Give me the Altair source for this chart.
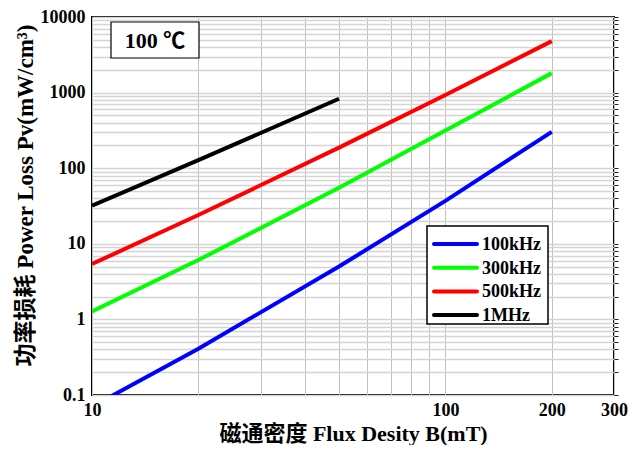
import altair as alt
import pandas as pd

# ---- data ----
series_names = ["100kHz", "300kHz", "500kHz", "1MHz"]
series_colors = ["#0000FF", "#00FF00", "#FF0000", "#000000"]

b_100k = [10, 20, 50, 100, 200]
p_100k = [0.07, 0.41, 5.0, 37, 303]

b_300k = [10, 20, 50, 100, 200]
p_300k = [1.27, 6.1, 55, 315, 1810]

b_500k = [10, 20, 50, 100, 200]
p_500k = [5.4, 24, 187, 930, 4800]

b_1m = [10, 20, 50]
p_1m = [32, 128, 830]

x_tick_values = [10, 20, 30, 40, 50, 60, 70, 80, 90, 100, 200, 300]
y_decades = [0.1, 1, 10, 100, 1000, 10000]

rows = []
for name, bs, ps in zip(series_names, [b_100k, b_300k, b_500k, b_1m],
                        [p_100k, p_300k, p_500k, p_1m]):
    for b, p in zip(bs, ps):
        rows.append({"series": name, "B": b, "P": p})
df = pd.DataFrame(rows)

y_tick_values = []
for d in y_decades[:-1]:
    for k in range(1, 10):
        y_tick_values.append(round(d * k, 6))
y_tick_values.append(10000)

FONT = "Liberation Serif, Times New Roman, Noto Sans CJK SC"

x_scale = alt.Scale(type="log", domain=[10, 300], nice=False)
y_scale = alt.Scale(type="log", domain=[0.1, 10000], nice=False)

x_axis = alt.Axis(
    values=x_tick_values,
    labelExpr="indexof([10,100,200,300], datum.value) >= 0 ? format(datum.value, 'd') : ''",
    title="磁通密度 Flux Desity B(mT)",
    titleFont=FONT, titleFontSize=22, titleFontWeight="bold", titleColor="black",
    titlePadding=4,
    labelFont=FONT, labelFontSize=18, labelFontWeight="bold", labelColor="black",
    labelPadding=6, labelFlush=False, labelOverlap=False,
    ticks=False, domain=False,
    grid=True, gridColor="#c0c0c0", gridWidth=1,
)
y_axis = alt.Axis(
    values=y_tick_values,
    labelExpr="indexof([0.1,1,10,100,1000,10000], datum.value) >= 0 ? (datum.value < 1 ? '0.1' : format(datum.value, 'd')) : ''",
    title="功率损耗 Power Loss Pv(mW/cm³)",
    titleFont=FONT, titleFontSize=23, titleFontWeight="bold", titleColor="black",
    titlePadding=3, titleY=178,
    labelFont=FONT, labelFontSize=18, labelFontWeight="bold", labelColor="black",
    labelPadding=7, labelOverlap=False, labelFlush=False,
    ticks=False, domain=False,
    grid=True, gridColor="#d4d4d4", gridWidth=1.6,
)
y_axis_right = alt.Axis(
    orient="right", values=y_tick_values, labels=False, title=None,
    ticks=True, tickSize=4, tickColor="#222222", tickWidth=1,
    domain=False, grid=False,
)

lines = alt.Chart(df).mark_line(strokeWidth=4, clip=True).encode(
    x=alt.X("B:Q", scale=x_scale, axis=x_axis),
    y=alt.Y("P:Q", scale=y_scale, axis=y_axis),
    color=alt.Color(
        "series:N",
        scale=alt.Scale(domain=series_names, range=series_colors),
        legend=None,
    ),
    detail="series:N",
)

right_ticks = alt.Chart(df).mark_point(opacity=0).encode(
    x=alt.X("B:Q", scale=x_scale, axis=None),
    y=alt.Y("P:Q", scale=y_scale, axis=y_axis_right),
)

# temperature label box
box = alt.Chart(pd.DataFrame({"a": [0]})).mark_rect(
    fill="white", stroke="black", strokeWidth=1.2
).encode(
    x=alt.value(19), x2=alt.value(107), y=alt.value(5), y2=alt.value(41)
)
box_text = alt.Chart(pd.DataFrame({"t": ["100 ℃"]})).mark_text(
    font=FONT, fontSize=22, fontWeight="bold", color="black",
    align="center", baseline="middle"
).encode(
    x=alt.value(63), y=alt.value(24), text="t:N"
)

# manual legend
leg_layers = [
    alt.Chart(pd.DataFrame({"a": [0]})).mark_rect(
        fill="white", stroke="black", strokeWidth=1.5
    ).encode(x=alt.value(335), x2=alt.value(456), y=alt.value(209), y2=alt.value(307))
]
for i, (name, col) in enumerate(zip(series_names, series_colors)):
    yy = 227 + i * 23.7
    leg_layers.append(
        alt.Chart(pd.DataFrame({"a": [0]})).mark_rule(
            color=col, strokeWidth=4, strokeCap="round"
        ).encode(x=alt.value(342), x2=alt.value(385), y=alt.value(yy))
    )
    leg_layers.append(
        alt.Chart(pd.DataFrame({"t": [name]})).mark_text(
            font=FONT, fontSize=18, fontWeight="bold", color="black",
            align="left", baseline="middle"
        ).encode(x=alt.value(390), y=alt.value(yy + 1), text="t:N")
    )

chart = alt.layer(lines, right_ticks, box, box_text, *leg_layers).resolve_axis(
    y="independent", x="independent"
).properties(
    width=522, height=378,
    autosize=alt.AutoSizeParams(type="none"),
    padding={"left": 84, "top": 9, "right": 15, "bottom": 50},
).configure_view(stroke="black", strokeWidth=2)

chart.save("out.html", embed_options={"renderer": "svg", "actions": False})
